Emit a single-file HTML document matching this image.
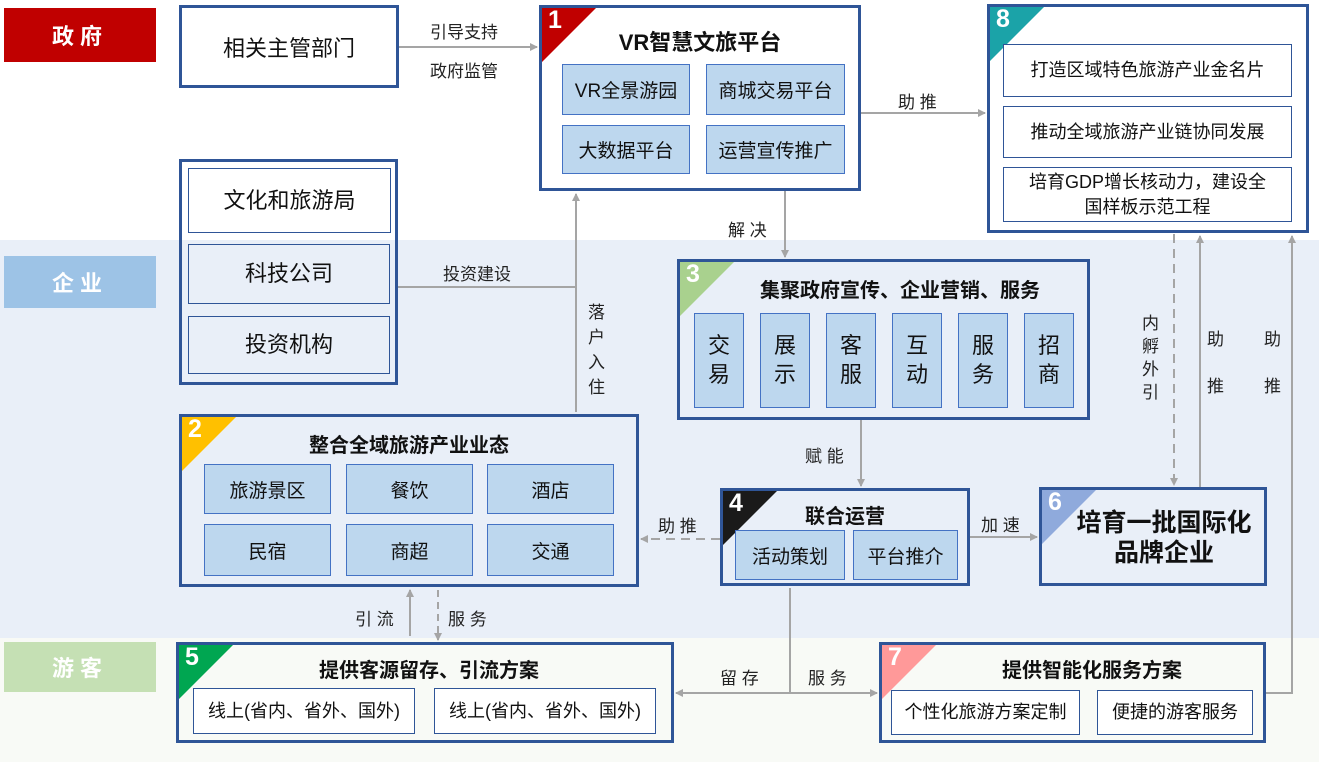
<!DOCTYPE html>
<html><head><meta charset="utf-8"><style>
*{margin:0;padding:0;box-sizing:border-box}
body{width:1319px;height:762px;position:relative;overflow:hidden;background:#fff;font-family:"Liberation Sans","Noto Sans CJK SC",sans-serif;color:#111}
.a{position:absolute}
.box{position:absolute;border:3px solid #2f5597;background:#fff}
.ib{position:absolute;background:#bdd7ee;border:1.5px solid #4472c4;display:flex;align-items:center;justify-content:center;font-size:19px;text-align:center}
.wb{position:absolute;background:#fff;border:1.5px solid #2f5597;display:flex;align-items:center;justify-content:center;font-size:18px;text-align:center;line-height:1.35}
.t{position:absolute;font-weight:bold;font-size:20px;text-align:center}
.tri{position:absolute;left:0;top:0;width:0;height:0;border-right:54px solid transparent}
.num{position:absolute;left:6px;top:-2px;color:#fff;font-weight:bold;font-size:25px}
.lab{position:absolute;font-size:17px;color:#222;white-space:nowrap}
.side{position:absolute;left:4px;width:152px;display:flex;align-items:center;justify-content:center;font-size:22px;font-weight:bold;color:#fff;letter-spacing:6px}
</style></head><body>
<div class="a" style="left:0;top:240px;width:1319px;height:398px;background:#e9eff8"></div>
<div class="a" style="left:0;top:638px;width:1319px;height:124px;background:#f8faf6"></div>
<div class="side" style="top:8px;height:54px;background:#c00000">政府</div>
<div class="side" style="top:256px;height:52px;background:#9dc3e6">企业</div>
<div class="side" style="top:642px;height:50px;background:#c5e0b4">游客</div>

<svg class="a" style="left:0;top:0" width="1319" height="762">
<defs><marker id="m" markerWidth="8" markerHeight="8" refX="7" refY="4" orient="auto" markerUnits="userSpaceOnUse"><path d="M0,0 L8,4 L0,8z" fill="#a5a5a5"/></marker></defs>
<g stroke="#a5a5a5" stroke-width="2" fill="none">
<path d="M399,47 H537" marker-end="url(#m)"/>
<path d="M861,113 H985" marker-end="url(#m)"/>
<path d="M785,191 V257" marker-end="url(#m)"/>
<path d="M398,287 H576"/>
<path d="M576,412 V194" marker-end="url(#m)"/>
<path d="M861,420 V486" marker-end="url(#m)"/>
<path d="M720,539 H641" stroke-dasharray="9,6" marker-end="url(#m)"/>
<path d="M970,537 H1037" marker-end="url(#m)"/>
<path d="M1174,234 V485" stroke-dasharray="9,6" marker-end="url(#m)"/>
<path d="M1200,487 V236" marker-end="url(#m)"/>
<path d="M1266,693 H1292 V236" marker-end="url(#m)"/>
<path d="M790,588 V693 H877" marker-end="url(#m)"/>
<path d="M790,693 H676" marker-end="url(#m)"/>
<path d="M410,636 V590" marker-end="url(#m)"/>
<path d="M438,590 V640" stroke-dasharray="7,5" marker-end="url(#m)"/>
</g></svg>

<div class="lab" style="left:430px;top:18px">引导支持</div>
<div class="lab" style="left:430px;top:57px">政府监管</div>
<div class="lab" style="left:898px;top:88px">助 推</div>
<div class="lab" style="left:728px;top:216px">解 决</div>
<div class="lab" style="left:443px;top:260px">投资建设</div>
<div class="lab" style="left:588px;top:300px;width:20px;line-height:25px;white-space:normal">落户入住</div>
<div class="lab" style="left:805px;top:442px">赋 能</div>
<div class="lab" style="left:658px;top:512px">助 推</div>
<div class="lab" style="left:981px;top:511px">加 速</div>
<div class="lab" style="left:1142px;top:312px;width:20px;line-height:23px;white-space:normal">内孵外引</div>
<div class="lab" style="left:1207px;top:325px">助</div><div class="lab" style="left:1207px;top:372px">推</div>
<div class="lab" style="left:1264px;top:325px">助</div><div class="lab" style="left:1264px;top:372px">推</div>
<div class="lab" style="left:720px;top:664px">留 存</div>
<div class="lab" style="left:808px;top:664px">服 务</div>
<div class="lab" style="left:355px;top:605px">引 流</div>
<div class="lab" style="left:448px;top:605px">服 务</div>

<div class="box" style="left:179px;top:5px;width:220px;height:83px;display:flex;align-items:center;justify-content:center;font-size:22px">相关主管部门</div>

<div class="box" style="left:539px;top:5px;width:322px;height:186px">
<div class="tri" style="border-top:54px solid #c00000"></div><div class="num">1</div>
<div class="t" style="left:0;width:316px;top:17px;font-size:22px">VR智慧文旅平台</div></div>
<div class="ib" style="left:562px;top:64px;width:128px;height:51px">VR全景游园</div>
<div class="ib" style="left:706px;top:64px;width:139px;height:51px">商城交易平台</div>
<div class="ib" style="left:562px;top:125px;width:128px;height:49px">大数据平台</div>
<div class="ib" style="left:706px;top:125px;width:139px;height:49px">运营宣传推广</div>

<div class="box" style="left:987px;top:4px;width:322px;height:229px">
<div class="tri" style="border-top:54px solid #1ba3a8"></div><div class="num">8</div></div>
<div class="wb" style="left:1003px;top:44px;width:289px;height:53px">打造区域特色旅游产业金名片</div>
<div class="wb" style="left:1003px;top:106px;width:289px;height:52px">推动全域旅游产业链协同发展</div>
<div class="wb" style="left:1003px;top:167px;width:289px;height:55px">培育GDP增长核动力，建设全<br>国样板示范工程</div>

<div class="box" style="left:179px;top:159px;width:219px;height:226px;background:transparent"></div>
<div class="wb" style="left:188px;top:168px;width:203px;height:65px;font-size:22px">文化和旅游局</div>
<div class="wb" style="left:188px;top:244px;width:202px;height:60px;font-size:22px;background:#e9eff8">科技公司</div>
<div class="wb" style="left:188px;top:316px;width:202px;height:58px;font-size:22px;background:#e9eff8">投资机构</div>

<div class="box" style="left:677px;top:259px;width:413px;height:161px;background:#e9eff8">
<div class="tri" style="border-top:54px solid #a9d18e"></div><div class="num">3</div>
<div class="t" style="left:40px;width:360px;top:12px">集聚政府宣传、企业营销、服务</div></div>
<div class="ib" style="left:694px;top:313px;width:50px;height:95px;font-size:22px;line-height:1.3">交<br>易</div>
<div class="ib" style="left:760px;top:313px;width:50px;height:95px;font-size:22px;line-height:1.3">展<br>示</div>
<div class="ib" style="left:826px;top:313px;width:50px;height:95px;font-size:22px;line-height:1.3">客<br>服</div>
<div class="ib" style="left:892px;top:313px;width:50px;height:95px;font-size:22px;line-height:1.3">互<br>动</div>
<div class="ib" style="left:958px;top:313px;width:50px;height:95px;font-size:22px;line-height:1.3">服<br>务</div>
<div class="ib" style="left:1024px;top:313px;width:50px;height:95px;font-size:22px;line-height:1.3">招<br>商</div>

<div class="box" style="left:179px;top:414px;width:460px;height:173px;background:#e9eff8">
<div class="tri" style="border-top:54px solid #ffc000"></div><div class="num">2</div>
<div class="t" style="left:0;width:454px;top:12px">整合全域旅游产业业态</div></div>
<div class="ib" style="left:204px;top:464px;width:127px;height:50px">旅游景区</div>
<div class="ib" style="left:346px;top:464px;width:127px;height:50px">餐饮</div>
<div class="ib" style="left:487px;top:464px;width:127px;height:50px">酒店</div>
<div class="ib" style="left:204px;top:524px;width:127px;height:52px">民宿</div>
<div class="ib" style="left:346px;top:524px;width:127px;height:52px">商超</div>
<div class="ib" style="left:487px;top:524px;width:127px;height:52px">交通</div>

<div class="box" style="left:720px;top:488px;width:250px;height:98px;background:#e9eff8">
<div class="tri" style="border-top:54px solid #1a1a1a"></div><div class="num">4</div>
<div class="t" style="left:0;width:244px;top:9px">联合运营</div></div>
<div class="ib" style="left:735px;top:530px;width:110px;height:50px">活动策划</div>
<div class="ib" style="left:853px;top:530px;width:105px;height:50px">平台推介</div>

<div class="box" style="left:1039px;top:487px;width:228px;height:99px;background:#e9eff8">
<div class="tri" style="border-top:54px solid #8faadc"></div><div class="num">6</div>
<div class="t" style="left:20px;width:204px;top:18px;font-size:25px;line-height:30px">培育一批国际化<br>品牌企业</div></div>

<div class="box" style="left:176px;top:642px;width:498px;height:101px;background:#f8faf6">
<div class="tri" style="border-top:54px solid #00a651"></div><div class="num">5</div>
<div class="t" style="left:30px;width:440px;top:9px">提供客源留存、引流方案</div></div>
<div class="wb" style="left:193px;top:688px;width:222px;height:46px">线上(省内、省外、国外)</div>
<div class="wb" style="left:434px;top:688px;width:222px;height:46px">线上(省内、省外、国外)</div>

<div class="box" style="left:879px;top:642px;width:387px;height:101px;background:#f8faf6">
<div class="tri" style="border-top:54px solid #ff9999"></div><div class="num">7</div>
<div class="t" style="left:40px;width:340px;top:9px">提供智能化服务方案</div></div>
<div class="wb" style="left:891px;top:690px;width:189px;height:45px">个性化旅游方案定制</div>
<div class="wb" style="left:1097px;top:690px;width:156px;height:45px">便捷的游客服务</div>
</body></html>
